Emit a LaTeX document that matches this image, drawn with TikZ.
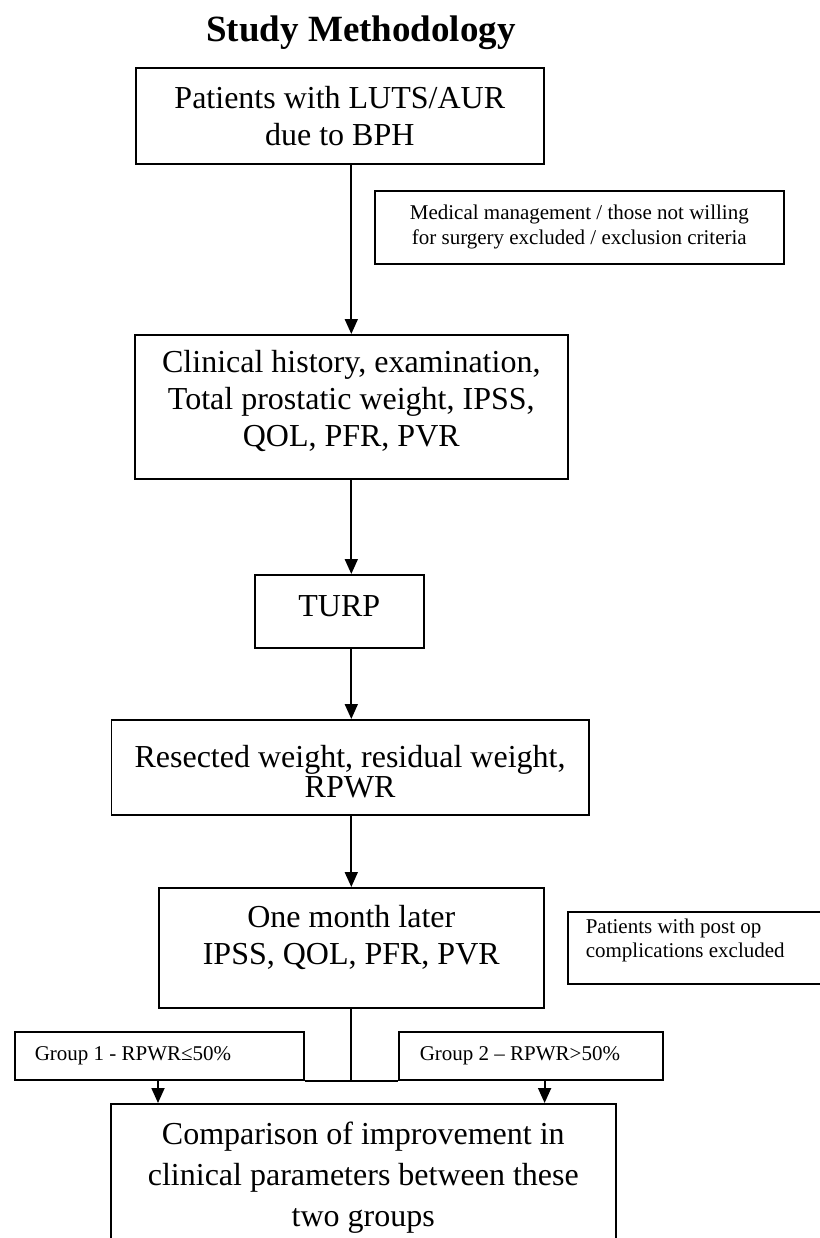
\documentclass[tikz,border=0pt]{standalone}
\usepackage{fontspec}
\setmainfont{Liberation Serif}
\usetikzlibrary{arrows.meta}
\newcommand\cbox[4]{\parbox[c][#2][c]{#1}{\centering #4\par\vspace{#3}}}
\newcommand\lbox[5]{\hspace*{#3}\parbox[c][#2][c]{#1}{\raggedright #5\par\vspace{#4}}}
\tikzset{
  box/.style={draw, line width=1.6pt, inner sep=0pt, anchor=north west},
  big/.style={font=\fontsize{32}{37}\selectfont},
  small/.style={font=\fontsize{21}{25}\selectfont},
  arr/.style={line width=1.8pt, -{Triangle[width=13pt,length=15pt]}},
  link/.style={line width=1.8pt}
}
\begin{document}
\begin{tikzpicture}[x=1pt,y=-1pt]
\useasboundingbox (0,0) rectangle (819,1238);
\node[font=\bfseries\fontsize{37}{40}\selectfont, anchor=base] (title) at (361,42) {Study Methodology};
\node[box,big] (b1) at (135,67) {\cbox{408pt}{96pt}{0pt}{Patients with LUTS/AUR\\due to BPH}};
\node[box,small] (s1) at (374,190) {\cbox{409pt}{73pt}{0pt}{Medical management / those not willing\\for surgery excluded / exclusion criteria}};
\node[box,big] (b2) at (134,334) {\cbox{433pt}{144pt}{12pt}{Clinical history, examination,\\Total prostatic weight, IPSS,\\QOL, PFR, PVR}};
\node[box,big] (b3) at (254,574) {\cbox{169pt}{73pt}{10pt}{TURP}};
\node[box,big,font=\fontsize{32}{30}\selectfont] (b4) at (110.5,719) {\cbox{477.5pt}{95pt}{-8pt}{Resected weight, residual weight,\\RPWR}};
\node[box,big] (b5) at (158,887) {\cbox{385pt}{120pt}{20pt}{One month later\\IPSS, QOL, PFR, PVR}};
\node[box,font=\fontsize{21}{24}\selectfont] (s2) at (567,911) {\lbox{235pt}{72pt}{18pt}{15pt}{Patients with post op\\complications excluded}};
\node[box,small] (g1) at (14,1031) {\lbox{269pt}{48pt}{20pt}{0pt}{Group 1 - RPWR≤50\%}};
\node[box,small] (g2) at (398,1031) {\lbox{243pt}{48pt}{21pt}{0pt}{Group 2 – RPWR>50\%}};
\node[box,big,font=\fontsize{32}{41}\selectfont] (b6) at (110,1103) {\cbox{505pt}{148pt}{0pt}{Comparison of improvement in\\clinical parameters between these\\two groups}};
\draw[arr] (b2.north |- b1.south) -- (b2.north);
\draw[arr] (b2.south) -- (b2.south |- b3.north);
\draw[arr] (b2.south |- b3.south) -- (b2.south |- b4.north);
\draw[arr] (b2.south |- b4.south) -- (b2.south |- b5.north);
\draw[link] (b5.south) -- (b5.south |- g1.south);
\draw[link] (g1.south east) -- (g2.south west);
\draw[arr] (b5.south west |- g1.south) -- (b5.south west |- b6.north);
\draw[arr] (b5.south east |- g2.south) -- (b5.south east |- b6.north);
\end{tikzpicture}
\end{document}
